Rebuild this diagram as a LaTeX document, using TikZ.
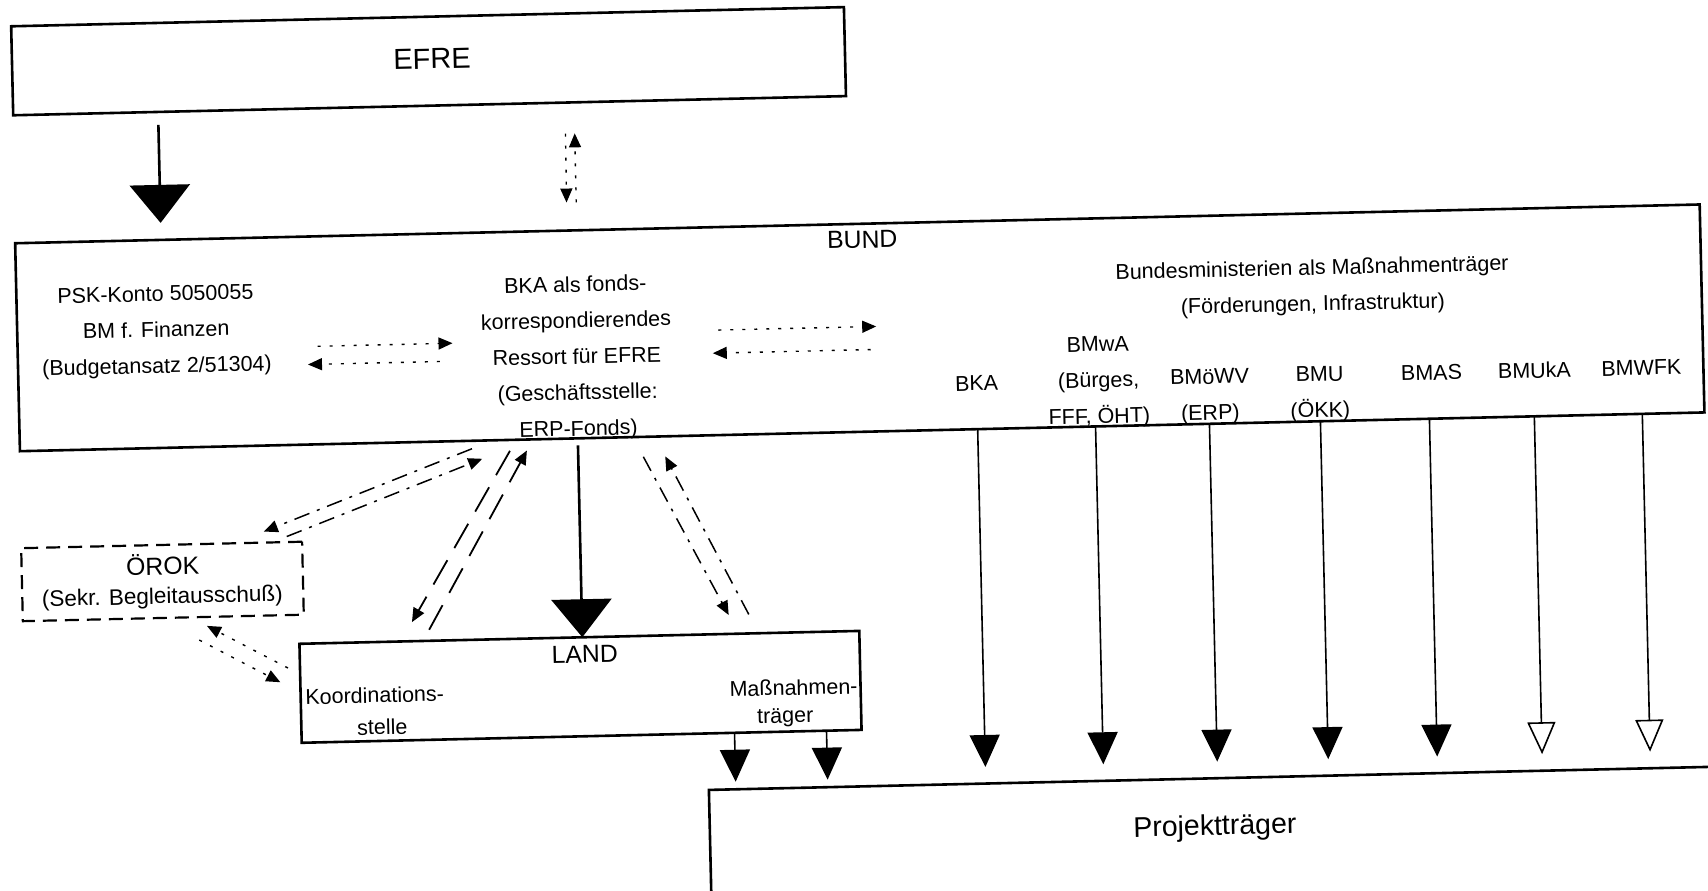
\documentclass[tikz,border=0pt]{standalone}
\usepackage{fontspec}
\setmainfont{Liberation Sans}
\usetikzlibrary{arrows.meta,calc}
\begin{document}
\begin{tikzpicture}[x=1pt,y=-1pt,
  box/.style={draw, line width=2.6pt, inner sep=0pt, outer sep=0pt, rectangle},
  txt/.style={inner sep=0pt, align=center, font=\fontsize{21.5}{36}\selectfont},
  bigtxt/.style={inner sep=0pt, font=\fontsize{24.8}{30}\selectfont},
  hugetxt/.style={inner sep=0pt, font=\fontsize{29}{34}\selectfont},
  bigarrow/.style={line width=2.6pt, -{Triangle[width=60pt,length=38pt]}},
  midarrow/.style={line width=1.6pt, -{Triangle[width=30pt,length=32pt]}},
  openarrow/.style={line width=1.6pt, -{Triangle[open,width=28pt,length=32pt,fill=white]}},
  smallhead/.style={-{Triangle[width=12pt,length=14pt]}},
  dotline/.style={line width=1.4pt, dash pattern=on 3pt off 9pt, smallhead},
  dashline/.style={line width=1.8pt, dash pattern=on 28pt off 14pt, smallhead},
  dashdotline/.style={line width=1.5pt, dash pattern=on 16pt off 8pt on 3pt off 8pt, smallhead},
]
\path[fill=white] (0,0) rectangle (1708,891);
\useasboundingbox (0,0) rectangle (1708,891);
\begin{scope}[rotate around={1.32:(854,445.5)}, transform shape]
% boxes
\node[box, minimum width=833pt, minimum height=89pt] (efre) at (437.5,51.5) {};
\node[hugetxt] (efret) at (441,49) {EFRE};
\node[box, minimum width=1685pt, minimum height=208pt] (bund) at (862.5,328) {};
\node[bigtxt] (bundt) at (867,240) {BUND};
\node[txt] (fin) at (159,316) {PSK-Konto 5050055\\BM f. Finanzen\\(Budgetansatz 2/51304)};
\node[txt] (bkat) at (579,352) {BKA als fonds-\\korrespondierendes\\Ressort für EFRE\\(Geschäftsstelle:\\ERP-Fonds)};
\node[txt] (bmin) at (1316,298) {Bundesministerien als Maßnahmenträger\\(Förderungen, Infrastruktur)};
\node[txt] (m1) at (978,386) {BKA};
\node[txt] (m2) at (1100,388) {BMwA\\(Bürges,\\FFF, ÖHT)};
\node[txt] (m3) at (1211,405) {BMöWV\\(ERP)};
\node[txt] (m4) at (1321,405) {BMU\\(ÖKK)};
\node[txt] (m5) at (1433,386) {BMAS};
\node[txt] (m6) at (1536,386) {BMUkA};
\node[txt] (m7) at (1643,386) {BMWFK};
\node[box, line width=2.2pt, dash pattern=on 14pt off 8pt, minimum width=281pt, minimum height=73pt] (orok) at (159.5,565.5) {};
\node[bigtxt] (orokt) at (160,548.5) {ÖROK};
\node[txt, font=\fontsize{22.5}{30}\selectfont] (sekr) at (159,582) {(Sekr. Begleitausschuß)};
\node[box, minimum width=560pt, minimum height=99pt] (land) at (575,680.5) {};
\node[bigtxt] (landt) at (580,648) {LAND};
\node[txt] (koord1) at (369,684) {Koordinations-};
\node[txt] (koord2) at (376,716) {stelle};
\node[txt] (mass1) at (788,686) {Maßnahmen-};
\node[txt] (mass2) at (779,716) {träger};
\node[box, minimum width=1059pt, minimum height=163pt] (proj) at (1230.5,868) {};
\node[txt, font=\fontsize{28.5}{34}\selectfont] (projt) at (1206,836) {Projektträger};
% EFRE -> BUND
\draw[bigarrow, shorten <=13pt, shorten >=17pt] ($(efre.south west)!0.174!(efre.south east)$) -- ($(bund.north west)!0.0866!(bund.north east)$);
\draw[dotline, shorten <=28pt, shorten >=31pt] ($(bund.north west)!0.3335!(bund.north east)$) -- ($(efre.south west)!0.6735!(efre.south east)$);
\draw[dotline, shorten <=31pt, shorten >=28pt] ($(efre.south west)!0.6627!(efre.south east)$) -- ($(bund.north west)!0.3276!(bund.north east)$);
% inside BUND
\coordinate (d1s) at (320,334); \coordinate (d1e) at (455,334);
\coordinate (d2s) at (442,352); \coordinate (d2e) at (310,352);
\coordinate (d3s) at (721,327); \coordinate (d3e) at (879,327);
\coordinate (d4s) at (873,350); \coordinate (d4e) at (715,350);
\draw[dotline] (d1s) -- (d1e);
\draw[dotline] (d2s) -- (d2e);
\draw[dotline] (d3s) -- (d3e);
\draw[dotline] (d4s) -- (d4e);
% BUND -> LAND
\draw[bigarrow, shorten <=7pt] ($(bund.south west)!0.3312!(bund.south east)$) -- ($(land.north west)!0.5054!(land.north east)$);
\draw[dashline, shorten <=12.8pt, shorten >=22.2pt] ($(bund.south west)!0.2947!(bund.south east)$) -- ($(land.north west)!0.1813!(land.north east)$);
\draw[dashline, shorten <=12.7pt, shorten >=12.7pt] ($(land.north west)!0.2209!(land.north east)$) -- ($(bund.south west)!0.3046!(bund.south east)$);
\draw[dashdotline, shorten <=21.2pt, shorten >=22.4pt] ($(land.north west)!0.8205!(land.north east)$) -- ($(bund.south west)!0.3769!(bund.south east)$);
\draw[dashdotline, shorten <=22.4pt, shorten >=21.2pt] ($(bund.south west)!0.3638!(bund.south east)$) -- ($(land.north west)!0.7848!(land.north east)$);
% BUND <-> OEROK
\draw[dashdotline, shorten <=22.9pt, shorten >=31.6pt] ($(bund.south west)!0.2810!(bund.south east)$) -- ($(orok.north west)!0.7594!(orok.north east)$);
\draw[dashdotline, shorten <=15.8pt, shorten >=52.5pt] ($(orok.north west)!0.8932!(orok.north east)$) -- ($(bund.south west)!0.3034!(bund.south east)$);
% OEROK <-> LAND
\draw[dotline, shorten <=13.7pt, shorten >=18.7pt] ($(land.north west)!0.309!(land.south west)$) -- ($(orok.south west)!0.5964!(orok.south east)$);
\draw[dotline, shorten <=47.7pt, shorten >=22.8pt] ($(orok.south west)!0.4776!(orok.south east)$) -- ($(land.north west)!0.4949!(land.south west)$);
% LAND -> Projekttraeger
\draw[midarrow, shorten >=7.5pt] ($(land.south west)!0.7732!(land.south east)$) -- ($(proj.north west)!0.0255!(proj.north east)$);
\draw[midarrow, shorten >=7.5pt] ($(land.south west)!0.9375!(land.south east)$) -- ($(proj.north west)!0.1124!(proj.north east)$);
% ministries -> Projekttraeger
\foreach \a/\b/\s in {0.5686/0.2616/midarrow, 0.6386/0.3730/midarrow, 0.7062/0.4806/midarrow, 0.7721/0.5855/midarrow, 0.8368/0.6884/midarrow, 0.8991/0.7875/openarrow, 0.9632/0.8895/openarrow}
  \draw[\s, shorten >=16.5pt] ($(bund.south west)!\a!(bund.south east)$) -- ($(proj.north west)!\b!(proj.north east)$);
\end{scope}
\end{tikzpicture}
\end{document}
